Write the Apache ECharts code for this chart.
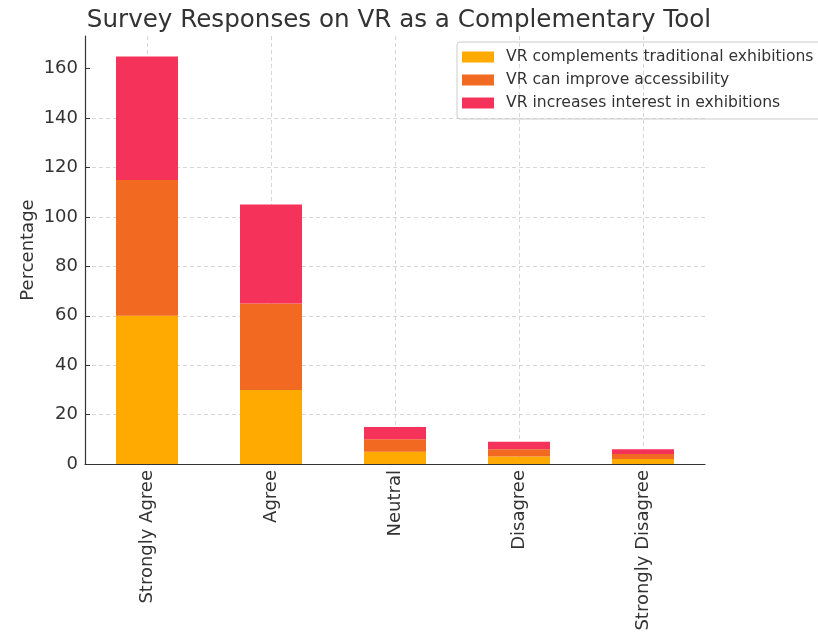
<!DOCTYPE html>
<html><head><meta charset="utf-8">
<script src="https://cdn.jsdelivr.net/npm/echarts@6/dist/echarts.min.js"></script>
<style>html,body{margin:0;padding:0;background:#fff}#c{width:818px;height:634px}</style>
</head><body><div id="c"></div>
<script>
const categories = ["Strongly Agree", "Agree", "Neutral", "Disagree", "Strongly Disagree"];
const complementsTraditional = [60, 30, 5, 3, 2];
const improveAccessibility = [55, 35, 5, 3, 2];
const increasesInterest = [50, 40, 5, 3, 2];
const seriesNames = ["VR complements traditional exhibitions", "VR can improve accessibility", "VR increases interest in exhibitions"];
const colors = ["#FFAA00", "#F26A22", "#F5325A"];
const yTicks = [0, 20, 40, 60, 80, 100, 120, 140, 160];

const chart = echarts.init(document.getElementById('c'));
const font = "DejaVu Sans";
const dataSets = [complementsTraditional, improveAccessibility, increasesInterest];
chart.setOption({
  animation: false,
  textStyle: {fontFamily: font},
  title: {text: "Survey Responses on VR as a Complementary Tool", left: 394, top: 3, textAlign: 'center',
    textStyle: {fontFamily: font, fontSize: 24.6, fontWeight: 'normal', color: '#333'}},
  legend: {orient: 'vertical', left: 457, top: 42, itemWidth: 32, itemHeight: 11, itemGap: 7,
    padding: [7, 10, 8, 5], borderColor: '#ccc', borderWidth: 1, borderRadius: 3,
    textStyle: {fontFamily: font, fontSize: 15.6, color: '#333', padding: [0, 0, 0, 7]}, icon: 'rect',
    data: seriesNames},
  grid: {left: 85, right: 113, top: 36, bottom: 170},
  xAxis: {type: 'category', data: categories,
    axisLine: {lineStyle: {color: '#333', width: 1.2}},
    axisTick: {alignWithLabel: true, inside: true, length: 5, lineStyle: {color: '#333'}},
    axisLabel: {rotate: 90, fontSize: 18, color: '#333', margin: 6, fontFamily: font},
    splitLine: {show: true, alignWithLabel: true, lineStyle: {color: '#ccc', type: [4, 3], width: 0.8}}},
  yAxis: {type: 'value', min: 0, max: 173.25, interval: 20,
    name: 'Percentage', nameLocation: 'middle', nameGap: 48, nameRotate: 90, nameMoveOverlap: false,
    nameTextStyle: {fontSize: 18, color: '#333', fontFamily: font},
    axisLine: {show: true, lineStyle: {color: '#333', width: 1.2}},
    axisTick: {show: true, inside: true, length: 5, lineStyle: {color: '#333'}, customValues: yTicks},
    axisLabel: {fontSize: 18, color: '#333', margin: 7, fontFamily: font, customValues: yTicks},
    splitLine: {show: true, showMaxLine: false, lineStyle: {color: '#ccc', type: [4, 3], width: 0.8}}},
  series: seriesNames.map((n, i) => ({
    name: n, type: 'bar', stack: 'total', data: dataSets[i], barWidth: 62,
    itemStyle: {color: colors[i]}, z: 3
  }))
});
</script></body></html>
